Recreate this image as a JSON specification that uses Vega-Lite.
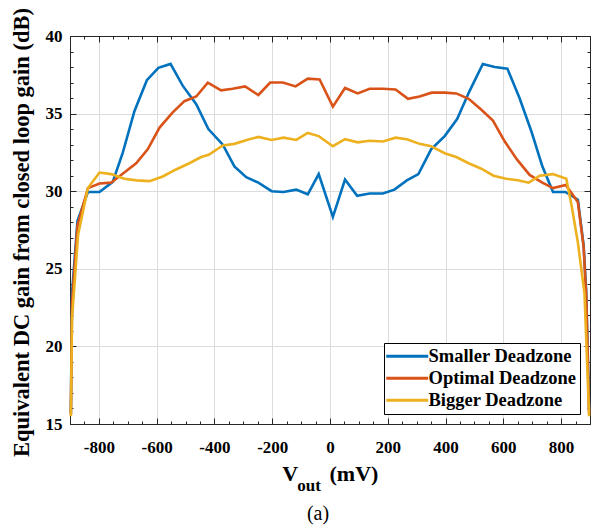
{
  "$schema": "https://vega.github.io/schema/vega-lite/v6.json",
  "width": 520,
  "height": 388,
  "autosize": "none",
  "padding": {"left": 70, "top": 36, "right": 2, "bottom": 103},
  "background": "white",
  "title": {"text": "(a)", "orient": "bottom", "anchor": "middle", "dx": -12, "offset": 11, "font": "Liberation Serif", "fontSize": 20, "fontWeight": "normal", "color": "black"},
  "config": {
    "view": {"stroke": null},
    "axis": {"domainColor": "#262626", "tickColor": "#262626", "labelFont": "Liberation Serif", "titleFont": "Liberation Serif", "labelFontWeight": "bold", "titleFontWeight": "bold", "labelColor": "black", "titleColor": "black", "domainWidth": 1, "tickWidth": 1}
  },
  "datasets": {
    "curves": [
      {"x": -897, "y": 15.7, "s": "Smaller Deadzone"},
      {"x": -893, "y": 23.4, "s": "Smaller Deadzone"},
      {"x": -874, "y": 28.1, "s": "Smaller Deadzone"},
      {"x": -838, "y": 29.95, "s": "Smaller Deadzone"},
      {"x": -798, "y": 29.95, "s": "Smaller Deadzone"},
      {"x": -752, "y": 30.6, "s": "Smaller Deadzone"},
      {"x": -717, "y": 32.5, "s": "Smaller Deadzone"},
      {"x": -677, "y": 35.15, "s": "Smaller Deadzone"},
      {"x": -634, "y": 37.15, "s": "Smaller Deadzone"},
      {"x": -594, "y": 37.95, "s": "Smaller Deadzone"},
      {"x": -552, "y": 38.2, "s": "Smaller Deadzone"},
      {"x": -510, "y": 36.8, "s": "Smaller Deadzone"},
      {"x": -463, "y": 35.6, "s": "Smaller Deadzone"},
      {"x": -421, "y": 34.0, "s": "Smaller Deadzone"},
      {"x": -371, "y": 33.0, "s": "Smaller Deadzone"},
      {"x": -331, "y": 31.6, "s": "Smaller Deadzone"},
      {"x": -290, "y": 30.9, "s": "Smaller Deadzone"},
      {"x": -248, "y": 30.55, "s": "Smaller Deadzone"},
      {"x": -202, "y": 30.0, "s": "Smaller Deadzone"},
      {"x": -161, "y": 29.95, "s": "Smaller Deadzone"},
      {"x": -117, "y": 30.1, "s": "Smaller Deadzone"},
      {"x": -77, "y": 29.8, "s": "Smaller Deadzone"},
      {"x": -39, "y": 31.1, "s": "Smaller Deadzone"},
      {"x": 10, "y": 28.35, "s": "Smaller Deadzone"},
      {"x": 52, "y": 30.75, "s": "Smaller Deadzone"},
      {"x": 94, "y": 29.7, "s": "Smaller Deadzone"},
      {"x": 137, "y": 29.85, "s": "Smaller Deadzone"},
      {"x": 183, "y": 29.85, "s": "Smaller Deadzone"},
      {"x": 223, "y": 30.1, "s": "Smaller Deadzone"},
      {"x": 266, "y": 30.7, "s": "Smaller Deadzone"},
      {"x": 306, "y": 31.1, "s": "Smaller Deadzone"},
      {"x": 350, "y": 32.7, "s": "Smaller Deadzone"},
      {"x": 397, "y": 33.55, "s": "Smaller Deadzone"},
      {"x": 440, "y": 34.65, "s": "Smaller Deadzone"},
      {"x": 483, "y": 36.45, "s": "Smaller Deadzone"},
      {"x": 529, "y": 38.2, "s": "Smaller Deadzone"},
      {"x": 570, "y": 38.0, "s": "Smaller Deadzone"},
      {"x": 614, "y": 37.9, "s": "Smaller Deadzone"},
      {"x": 656, "y": 36.0, "s": "Smaller Deadzone"},
      {"x": 699, "y": 33.75, "s": "Smaller Deadzone"},
      {"x": 735, "y": 31.6, "s": "Smaller Deadzone"},
      {"x": 772, "y": 29.95, "s": "Smaller Deadzone"},
      {"x": 815, "y": 29.95, "s": "Smaller Deadzone"},
      {"x": 858, "y": 29.45, "s": "Smaller Deadzone"},
      {"x": 878, "y": 26.5, "s": "Smaller Deadzone"},
      {"x": 887, "y": 23.5, "s": "Smaller Deadzone"},
      {"x": 897, "y": 15.9, "s": "Smaller Deadzone"},
      {"x": -897, "y": 15.6, "s": "Optimal Deadzone"},
      {"x": -893, "y": 22.8, "s": "Optimal Deadzone"},
      {"x": -874, "y": 27.8, "s": "Optimal Deadzone"},
      {"x": -838, "y": 30.2, "s": "Optimal Deadzone"},
      {"x": -798, "y": 30.5, "s": "Optimal Deadzone"},
      {"x": -758, "y": 30.55, "s": "Optimal Deadzone"},
      {"x": -712, "y": 31.2, "s": "Optimal Deadzone"},
      {"x": -671, "y": 31.8, "s": "Optimal Deadzone"},
      {"x": -631, "y": 32.7, "s": "Optimal Deadzone"},
      {"x": -590, "y": 34.1, "s": "Optimal Deadzone"},
      {"x": -546, "y": 35.05, "s": "Optimal Deadzone"},
      {"x": -504, "y": 35.8, "s": "Optimal Deadzone"},
      {"x": -463, "y": 36.1, "s": "Optimal Deadzone"},
      {"x": -423, "y": 37.0, "s": "Optimal Deadzone"},
      {"x": -377, "y": 36.5, "s": "Optimal Deadzone"},
      {"x": -337, "y": 36.6, "s": "Optimal Deadzone"},
      {"x": -294, "y": 36.75, "s": "Optimal Deadzone"},
      {"x": -248, "y": 36.2, "s": "Optimal Deadzone"},
      {"x": -207, "y": 37.0, "s": "Optimal Deadzone"},
      {"x": -163, "y": 37.0, "s": "Optimal Deadzone"},
      {"x": -119, "y": 36.75, "s": "Optimal Deadzone"},
      {"x": -77, "y": 37.25, "s": "Optimal Deadzone"},
      {"x": -36, "y": 37.2, "s": "Optimal Deadzone"},
      {"x": 10, "y": 35.45, "s": "Optimal Deadzone"},
      {"x": 52, "y": 36.65, "s": "Optimal Deadzone"},
      {"x": 96, "y": 36.3, "s": "Optimal Deadzone"},
      {"x": 137, "y": 36.6, "s": "Optimal Deadzone"},
      {"x": 183, "y": 36.6, "s": "Optimal Deadzone"},
      {"x": 227, "y": 36.55, "s": "Optimal Deadzone"},
      {"x": 270, "y": 35.95, "s": "Optimal Deadzone"},
      {"x": 310, "y": 36.1, "s": "Optimal Deadzone"},
      {"x": 352, "y": 36.35, "s": "Optimal Deadzone"},
      {"x": 397, "y": 36.35, "s": "Optimal Deadzone"},
      {"x": 437, "y": 36.3, "s": "Optimal Deadzone"},
      {"x": 480, "y": 35.95, "s": "Optimal Deadzone"},
      {"x": 524, "y": 35.25, "s": "Optimal Deadzone"},
      {"x": 564, "y": 34.55, "s": "Optimal Deadzone"},
      {"x": 605, "y": 33.2, "s": "Optimal Deadzone"},
      {"x": 647, "y": 32.05, "s": "Optimal Deadzone"},
      {"x": 691, "y": 31.05, "s": "Optimal Deadzone"},
      {"x": 735, "y": 30.55, "s": "Optimal Deadzone"},
      {"x": 772, "y": 30.2, "s": "Optimal Deadzone"},
      {"x": 816, "y": 30.4, "s": "Optimal Deadzone"},
      {"x": 858, "y": 29.3, "s": "Optimal Deadzone"},
      {"x": 878, "y": 26.4, "s": "Optimal Deadzone"},
      {"x": 887, "y": 23.2, "s": "Optimal Deadzone"},
      {"x": 897, "y": 15.7, "s": "Optimal Deadzone"},
      {"x": -897, "y": 15.5, "s": "Bigger Deadzone"},
      {"x": -893, "y": 21.8, "s": "Bigger Deadzone"},
      {"x": -872, "y": 27.2, "s": "Bigger Deadzone"},
      {"x": -838, "y": 30.2, "s": "Bigger Deadzone"},
      {"x": -798, "y": 31.2, "s": "Bigger Deadzone"},
      {"x": -758, "y": 31.1, "s": "Bigger Deadzone"},
      {"x": -712, "y": 30.8, "s": "Bigger Deadzone"},
      {"x": -669, "y": 30.7, "s": "Bigger Deadzone"},
      {"x": -625, "y": 30.65, "s": "Bigger Deadzone"},
      {"x": -579, "y": 30.95, "s": "Bigger Deadzone"},
      {"x": -533, "y": 31.4, "s": "Bigger Deadzone"},
      {"x": -487, "y": 31.8, "s": "Bigger Deadzone"},
      {"x": -446, "y": 32.2, "s": "Bigger Deadzone"},
      {"x": -420, "y": 32.35, "s": "Bigger Deadzone"},
      {"x": -371, "y": 32.95, "s": "Bigger Deadzone"},
      {"x": -331, "y": 33.05, "s": "Bigger Deadzone"},
      {"x": -288, "y": 33.3, "s": "Bigger Deadzone"},
      {"x": -248, "y": 33.5, "s": "Bigger Deadzone"},
      {"x": -202, "y": 33.3, "s": "Bigger Deadzone"},
      {"x": -161, "y": 33.45, "s": "Bigger Deadzone"},
      {"x": -117, "y": 33.3, "s": "Bigger Deadzone"},
      {"x": -77, "y": 33.75, "s": "Bigger Deadzone"},
      {"x": -39, "y": 33.55, "s": "Bigger Deadzone"},
      {"x": 10, "y": 32.9, "s": "Bigger Deadzone"},
      {"x": 52, "y": 33.35, "s": "Bigger Deadzone"},
      {"x": 96, "y": 33.15, "s": "Bigger Deadzone"},
      {"x": 137, "y": 33.25, "s": "Bigger Deadzone"},
      {"x": 183, "y": 33.2, "s": "Bigger Deadzone"},
      {"x": 227, "y": 33.45, "s": "Bigger Deadzone"},
      {"x": 266, "y": 33.35, "s": "Bigger Deadzone"},
      {"x": 310, "y": 33.05, "s": "Bigger Deadzone"},
      {"x": 350, "y": 32.9, "s": "Bigger Deadzone"},
      {"x": 397, "y": 32.45, "s": "Bigger Deadzone"},
      {"x": 437, "y": 32.2, "s": "Bigger Deadzone"},
      {"x": 480, "y": 31.8, "s": "Bigger Deadzone"},
      {"x": 524, "y": 31.45, "s": "Bigger Deadzone"},
      {"x": 566, "y": 31.0, "s": "Bigger Deadzone"},
      {"x": 610, "y": 30.8, "s": "Bigger Deadzone"},
      {"x": 650, "y": 30.7, "s": "Bigger Deadzone"},
      {"x": 688, "y": 30.55, "s": "Bigger Deadzone"},
      {"x": 726, "y": 31.0, "s": "Bigger Deadzone"},
      {"x": 772, "y": 31.1, "s": "Bigger Deadzone"},
      {"x": 818, "y": 30.8, "s": "Bigger Deadzone"},
      {"x": 837, "y": 29.0, "s": "Bigger Deadzone"},
      {"x": 858, "y": 26.7, "s": "Bigger Deadzone"},
      {"x": 881, "y": 23.4, "s": "Bigger Deadzone"},
      {"x": 897, "y": 15.5, "s": "Bigger Deadzone"}
    ]
  },
  "data": {"name": "curves"},
  "layer": [
    {
      "mark": {"type": "line", "strokeWidth": 2.6},
      "encoding": {
        "x": {"field": "x", "type": "quantitative", "scale": {"domain": [-900, 900], "nice": false, "zero": false},
          "axis": {"orient": "bottom", "values": [-800, -600, -400, -200, 0, 200, 400, 600, 800], "labelExpr": "'' + datum.value", "ticks": false, "tickSize": 0, "grid": true, "gridColor": "#dcdcdc", "gridWidth": 1, "domain": true, "labelFontSize": 17, "labelPadding": 15, "labelFlush": false,
            "title": "V", "titleFontSize": 22, "titleX": 211.7, "titleY": 56, "titleAlign": "left", "titleBaseline": "alphabetic", "titleAngle": 0}},
        "y": {"field": "y", "type": "quantitative", "scale": {"domain": [15, 40], "nice": false, "zero": false},
          "axis": {"orient": "left", "values": [15, 20, 25, 30, 35, 40], "ticks": false, "tickSize": 0, "grid": true, "gridColor": "#dcdcdc", "gridWidth": 1, "domain": true, "labelFontSize": 17, "labelPadding": 8, "labelFlush": false,
            "title": "Equivalent DC gain from closed loop gain (dB)", "titleFontSize": 22.5, "titleX": -49, "titleY": 196, "titleAngle": 270, "titleAlign": "center", "titleBaseline": "middle"}},
        "color": {"field": "s", "type": "nominal", "sort": ["Smaller Deadzone", "Optimal Deadzone", "Bigger Deadzone"],
          "scale": {"domain": ["Smaller Deadzone", "Optimal Deadzone", "Bigger Deadzone"], "range": ["#0072BD", "#D95319", "#EDB120"]},
          "legend": {"title": null, "orient": "bottom-right", "offset": 10, "padding": 4, "strokeColor": "black", "fillColor": "white", "symbolType": "M-4.2,0H4.2", "symbolSize": 100, "symbolStrokeWidth": 3, "symbolOffset": 10, "labelOffset": 12, "labelFont": "Liberation Serif", "labelFontSize": 18.5, "labelFontWeight": "bold", "labelColor": "black", "rowPadding": 3, "cornerRadius": 0}}
      }
    },
    {
      "mark": {"type": "point", "opacity": 0},
      "encoding": {
        "x": {"field": "x", "type": "quantitative",
          "axis": {"orient": "bottom", "values": [-800, -600, -400, -200, 0, 200, 400, 600, 800], "tickSize": -6, "labels": false, "domain": false, "grid": false,
            "title": "out", "titleFontSize": 17, "titleX": 226.7, "titleY": 66, "titleAlign": "left", "titleBaseline": "alphabetic", "titleAngle": 0}},
        "y": {"field": "y", "type": "quantitative",
          "axis": {"orient": "left", "values": [15, 20, 25, 30, 35, 40], "tickSize": -6, "labels": false, "domain": false, "grid": false, "title": null}}
      }
    },
    {
      "mark": {"type": "point", "opacity": 0},
      "encoding": {
        "x": {"field": "x", "type": "quantitative",
          "axis": {"orient": "bottom", "values": [-900, -850, -750, -700, -650, -550, -500, -450, -350, -300, -250, -150, -100, -50, 50, 100, 150, 250, 300, 350, 450, 500, 550, 650, 700, 750, 850, 900], "tickSize": -3, "labels": false, "domain": false, "grid": false,
            "title": "(mV)", "titleFontSize": 22, "titleX": 259, "titleY": 56, "titleAlign": "left", "titleBaseline": "alphabetic", "titleAngle": 0}},
        "y": {"field": "y", "type": "quantitative",
          "axis": {"orient": "left", "values": [16, 17, 18, 19, 21, 22, 23, 24, 26, 27, 28, 29, 31, 32, 33, 34, 36, 37, 38, 39], "tickSize": -3, "labels": false, "domain": false, "grid": false, "title": null}}
      }
    },
    {
      "mark": {"type": "point", "opacity": 0},
      "encoding": {
        "x": {"field": "x", "type": "quantitative",
          "axis": {"orient": "top", "values": [-800, -600, -400, -200, 0, 200, 400, 600, 800], "tickSize": -6, "labels": false, "domain": true, "grid": false, "title": null}},
        "y": {"field": "y", "type": "quantitative",
          "axis": {"orient": "right", "values": [15, 20, 25, 30, 35, 40], "tickSize": -6, "labels": false, "domain": true, "grid": false, "title": null}}
      }
    },
    {
      "mark": {"type": "point", "opacity": 0},
      "encoding": {
        "x": {"field": "x", "type": "quantitative",
          "axis": {"orient": "top", "values": [-900, -850, -750, -700, -650, -550, -500, -450, -350, -300, -250, -150, -100, -50, 50, 100, 150, 250, 300, 350, 450, 500, 550, 650, 700, 750, 850, 900], "tickSize": -3, "labels": false, "domain": false, "grid": false, "title": null}},
        "y": {"field": "y", "type": "quantitative",
          "axis": {"orient": "right", "values": [16, 17, 18, 19, 21, 22, 23, 24, 26, 27, 28, 29, 31, 32, 33, 34, 36, 37, 38, 39], "tickSize": -3, "labels": false, "domain": false, "grid": false, "title": null}}
      }
    }
  ],
  "resolve": {"axis": {"x": "independent", "y": "independent"}}
}
